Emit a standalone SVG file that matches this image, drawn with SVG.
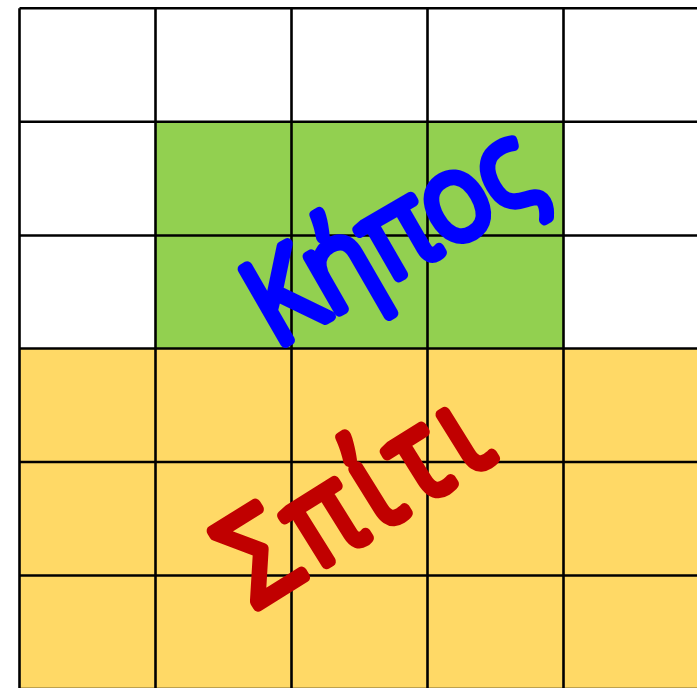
<svg xmlns="http://www.w3.org/2000/svg" width="697" height="688" viewBox="0 0 697 688">
<style>
.ln{stroke:#000;stroke-width:2.6;fill:none}
.lbl{font-family:"Open Sans","DejaVu Sans",sans-serif;font-weight:300;font-size:110px;text-anchor:middle;stroke-linejoin:round;stroke-linecap:round;stroke-width:10}
</style>
<rect width="697" height="688" fill="#fff"/>
<g id="garden"><rect x="155.5" y="121.8" width="408" height="226.7" fill="#92D050"/></g>
<g id="house"><rect x="19.5" y="348.5" width="680" height="341" fill="#FFD966"/></g>
<g id="grid" class="ln">
<line x1="19.5" y1="8.3" x2="19.5" y2="690"/>
<line x1="155.5" y1="8.3" x2="155.5" y2="690"/>
<line x1="291.5" y1="8.3" x2="291.5" y2="690"/>
<line x1="427.5" y1="8.3" x2="427.5" y2="690"/>
<line x1="563.5" y1="8.3" x2="563.5" y2="690"/>
<line x1="19.5" y1="8.3" x2="700" y2="8.3"/>
<line x1="19.5" y1="121.8" x2="700" y2="121.8"/>
<line x1="19.5" y1="235.5" x2="700" y2="235.5"/>
<line x1="19.5" y1="348.5" x2="700" y2="348.5"/>
<line x1="19.5" y1="462" x2="700" y2="462"/>
<line x1="19.5" y1="575.5" x2="700" y2="575.5"/>
<line x1="19.5" y1="689" x2="700" y2="689"/>
</g>
<g id="labels">
<text class="lbl" fill="#0000FF" stroke="#0000FF" transform="translate(411,270) rotate(-30) scale(1,1.08)">Κήπος</text>
<text class="lbl" fill="#C00000" stroke="#C00000" font-size="104" letter-spacing="10" transform="translate(380,530) rotate(-32) scale(1,1.12)">Σπίτι</text>
</g>
</svg>
